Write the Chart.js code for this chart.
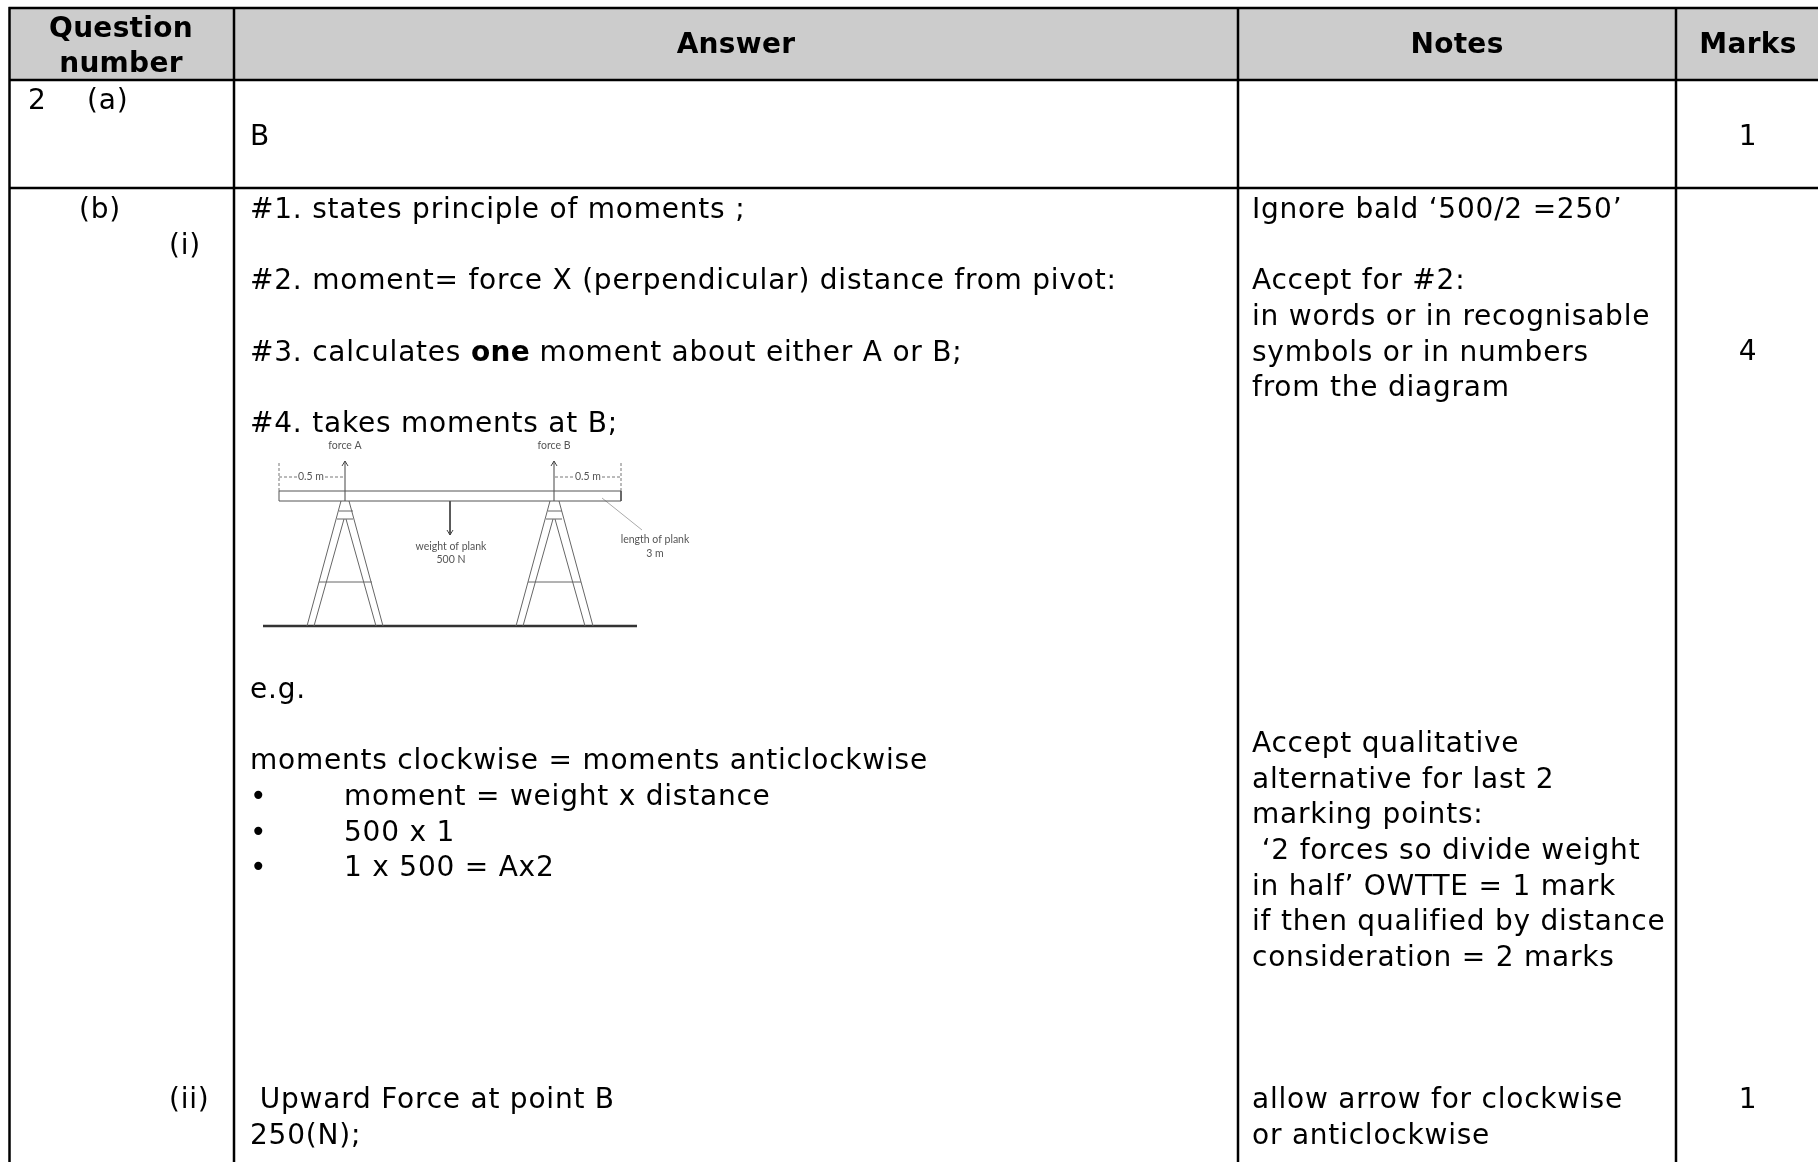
<!DOCTYPE html>
<html><head><meta charset="utf-8">
<style>html,body{margin:0;padding:0;background:#fff;overflow:hidden}canvas{display:block}</style>
<script src="https://cdn.jsdelivr.net/npm/chart.js@4/dist/chart.umd.min.js"></script>
</head><body><canvas id="c" width="1818" height="1162"></canvas>
<script>
// ---- table content
const headerLabels = ['Question','number','Answer','Notes','Marks'];
const questionLabels = ['2','(a)','(b)','(i)','(ii)'];
const answerBlockA = ['B'];
const answerBlockB = ['#1. states principle of moments ;','','#2. moment= force X (perpendicular) distance from pivot:','','#3. calculates **one** moment about either A or B;','','#4. takes moments at B;'];
const answerBlockC = ['e.g.','','moments clockwise = moments anticlockwise','•\tmoment = weight x distance','•\t500 x 1','•\t1 x 500 = Ax2'];
const answerBlockD = [' Upward Force at point B','250(N);'];
const notesBlockA = ['Ignore bald ‘500/2 =250’','','Accept for #2:','in words or in recognisable','symbols or in numbers','from the diagram'];
const notesBlockB = ['Accept qualitative','alternative for last 2','marking points:',' ‘2 forces so divide weight','in half’ OWTTE = 1 mark','if then qualified by distance','consideration = 2 marks'];
const notesBlockC = ['allow arrow for clockwise','or anticlockwise'];
const marksValues = ['1','4','1'];
const diagramLabels = ['force A','force B','0.5 m','0.5 m','weight of plank','500 N','length of plank','3 m'];

// ---- table rules
const headerBand = [{x:9.5,y:8},{x:1818,y:8}];
const tableRules = [
 {x:8.5,y:8},{x:1818,y:8},{x:null,y:null},
 {x:9.5,y:80},{x:1818,y:80},{x:null,y:null},
 {x:9.5,y:188},{x:1818,y:188},{x:null,y:null},
 {x:9.5,y:7},{x:9.5,y:1162},{x:null,y:null},
 {x:234,y:8},{x:234,y:1162},{x:null,y:null},
 {x:1238,y:8},{x:1238,y:1162},{x:null,y:null},
 {x:1676,y:8},{x:1676,y:1162}
];

// ---- plank diagram
const plankOutline = [{x:279,y:491},{x:621,y:491},{x:621,y:501},{x:279,y:501},{x:279,y:491}];
const frameLines = [
 {x:341,y:501},{x:307,y:626},{x:null,y:null},{x:344,y:519},{x:314,y:626},{x:null,y:null},
 {x:349,y:501},{x:383,y:626},{x:null,y:null},{x:346,y:519},{x:376,y:626},{x:null,y:null},
 {x:339,y:511},{x:353,y:511},{x:null,y:null},{x:337,y:519},{x:353,y:519},{x:null,y:null},
 {x:319,y:582},{x:372,y:582},{x:null,y:null},
 {x:550,y:501},{x:516,y:626},{x:null,y:null},{x:553,y:519},{x:523,y:626},{x:null,y:null},
 {x:559,y:501},{x:593,y:626},{x:null,y:null},{x:555,y:519},{x:585,y:626},{x:null,y:null},
 {x:548,y:511},{x:562,y:511},{x:null,y:null},{x:546,y:519},{x:562,y:519},{x:null,y:null},
 {x:528,y:582},{x:581,y:582}
];
const arrowLines = [
 {x:345,y:501},{x:345,y:461},{x:null,y:null},{x:342,y:466},{x:345,y:461},{x:348,y:466},{x:null,y:null},
 {x:554,y:501},{x:554,y:461},{x:null,y:null},{x:551,y:466},{x:554,y:461},{x:557,y:466},{x:null,y:null},
 {x:450,y:501},{x:450,y:535},{x:null,y:null},{x:447,y:530},{x:450,y:535},{x:453,y:530}
];
const dashLines = [
 {x:279,y:463},{x:279,y:491},{x:null,y:null},{x:621,y:463},{x:621,y:491},{x:null,y:null},
 {x:279,y:477},{x:297,y:477},{x:null,y:null},{x:325,y:477},{x:345,y:477},{x:null,y:null},
 {x:555,y:477},{x:573,y:477},{x:null,y:null},{x:602,y:477},{x:621,y:477}
];
const leaderLine = [{x:602,y:498},{x:642,y:530}];
const groundLine = [{x:263,y:626},{x:637,y:626}];

// ---- text layout
const FONT = '"DejaVu Sans"';
const SIZE = 28, LINE = 35.6, SPACING = '0.78px', BOLD_SPACING = '0.3px';
const blocks = [
 {lines:answerBlockA,x:250,y:137.5},
 {lines:answerBlockB,x:250,y:211},
 {lines:answerBlockC,x:250,y:691},
 {lines:answerBlockD,x:250,y:1101},
 {lines:notesBlockA,x:1252,y:211},
 {lines:notesBlockB,x:1252,y:745},
 {lines:notesBlockC,x:1252,y:1101}
];
const questionPlace = [[28,102],[87,102],[79,211],[169,246.5],[169,1101]];
const marksPlace = [[1748,137.5],[1748,353],[1748,1101]];
const headerPlace = [[121,30],[121,65],[736,46],[1457,46],[1748,46]];
const labelPlace = [[345,446],[554,446],[311,477],[588,477],[451,547],[451,560],[655,540],[655,554]];

const tablePlugin = {
 id:'tableText',
 afterDatasetsDraw(chart){
  const ctx = chart.ctx, sx = chart.scales.x, sy = chart.scales.y;
  ctx.save();
  ctx.textBaseline='middle'; ctx.fillStyle='#000';
  const put = (s,x,y,w,align)=>{
    ctx.font = w+' '+SIZE+'px '+FONT; ctx.textAlign=align||'left';
    ctx.letterSpacing = w==='bold' ? BOLD_SPACING : SPACING;
    ctx.fillText(s,sx.getPixelForValue(x),sy.getPixelForValue(y));
  };
  headerLabels.forEach((s,i)=>put(s,headerPlace[i][0],headerPlace[i][1],'bold','center'));
  questionLabels.forEach((s,i)=>put(s,questionPlace[i][0],questionPlace[i][1],'normal'));
  marksValues.forEach((s,i)=>put(s,marksPlace[i][0],marksPlace[i][1],'normal','center'));
  blocks.forEach(b=>b.lines.forEach((line,i)=>{
    const y=b.y+i*LINE;
    if(line.includes('\t')){const p=line.split('\t');put(p[0],b.x,y,'normal');put(p[1],b.x+94,y,'normal');return;}
    let x=b.x;
    line.split('**').forEach((run,k)=>{
      const w=k%2?'bold':'normal';
      put(run,x,y,w);
      x+=ctx.measureText(run).width;
    });
  }));
  ctx.letterSpacing='0px';
  ctx.fillStyle='#555'; ctx.font='10.5px Lato'; ctx.textAlign='center';
  diagramLabels.forEach((s,i)=>ctx.fillText(s,sx.getPixelForValue(labelPlace[i][0]),sy.getPixelForValue(labelPlace[i][1])));
  ctx.restore();
 }
};
const lineSet=(data,color,width,extra)=>Object.assign({data,borderColor:color,borderWidth:width,showLine:true,pointRadius:0,spanGaps:false,fill:false,tension:0,order:1},extra||{});
new Chart(document.getElementById('c'),{
 type:'scatter',
 data:{datasets:[
  lineSet(headerBand,'#ccc',0,{fill:{value:80},backgroundColor:'#cccccc',order:9}),
  lineSet(tableRules,'#000',2.5),
  lineSet(plankOutline,'#555',1),
  lineSet(frameLines,'#666',1),
  lineSet(arrowLines,'#444',1),
  lineSet(dashLines,'#777',1,{borderDash:[3,2]}),
  lineSet(leaderLine,'#aaa',1),
  lineSet(groundLine,'#333',2.5)
 ]},
 options:{
  responsive:false,animation:false,
  layout:{padding:0},
  plugins:{legend:{display:false},title:{display:false},tooltip:{enabled:false}},
  scales:{
   x:{type:'linear',min:0,max:1818,display:false},
   y:{type:'linear',min:0,max:1162,reverse:true,display:false}
  }
 },
 plugins:[tablePlugin]
});
</script></body></html>
